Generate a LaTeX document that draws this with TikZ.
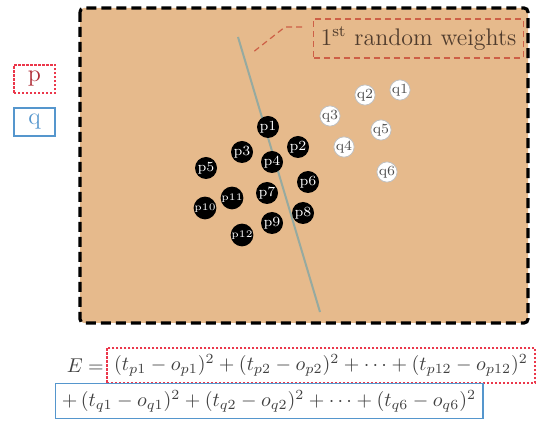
\documentclass[tikz,border=0pt]{standalone}
\usepackage{amsmath, amssymb}
\definecolor{sand}{RGB}{230,186,140}
\definecolor{pred}{RGB}{235,55,75}
\definecolor{ptext}{RGB}{175,45,55}
\definecolor{qblue}{RGB}{85,150,205}
\definecolor{sepline}{RGB}{150,170,160}
\definecolor{leadred}{RGB}{205,95,70}
\definecolor{labtext}{RGB}{80,60,45}
\tikzset{
    pnode/.style={circle, fill=black, text=white, minimum size=11pt, inner sep=0pt, font=\scriptsize},
    qnode/.style={circle, fill=white, draw=black!25, text=black!70, minimum size=10pt, inner sep=0pt, font=\scriptsize},
    pbox/.style={draw=pred, dash pattern=on 1.2pt off 0.8pt, line width=0.8pt},
    qbox/.style={draw=qblue, line width=0.8pt}
}
\begin{document}
\begin{tikzpicture}[x=0.5pt, y=-0.5pt]
    \useasboundingbox (0,0) rectangle (539,421);
    \filldraw[fill=sand, draw=black, line width=1.6pt, dash pattern=on 5pt off 2.5pt, rounded corners=2pt] (80,8) rectangle (528,323);
    % legend
    \node[pbox, minimum width=20.5pt, minimum height=13pt, text=ptext] (leg p) at (34.5,79) {\large p};
    \node[qbox, minimum width=20.5pt, minimum height=11pt, text=qblue] (leg q) at (34.5,122) {\large q};
    % weights line and its label
    \node[draw=leadred, densely dashed, line width=0.6pt, fill=sand, minimum width=99.5pt, minimum height=19.5pt, text=labtext] (weights) at (418.5,38.5) {\large 1\textsuperscript{st} random weights};
    \coordinate (s1) at (238,37);
    \coordinate (s2) at (320,312);
    \draw[sepline, line width=1pt] (s1) -- (s2);
    \coordinate (lead) at (302,27);
    \coordinate (tip) at (252,53);
    \draw[leadred, densely dashed, line width=0.6pt] (lead) -- (285,27) -- (tip);
    % p points
    \node[pnode] (p1) at (268,127) {p1};
    \node[pnode] (p2) at (298,147) {p2};
    \node[pnode] (p3) at (242,152) {p3};
    \node[pnode] (p4) at (272,162) {p4};
    \node[pnode] (p5) at (206,168) {p5};
    \node[pnode] (p6) at (308,182) {p6};
    \node[pnode] (p7) at (267,193) {p7};
    \node[pnode] (p8) at (303,213) {p8};
    \node[pnode] (p9) at (272,223) {p9};
    \node[pnode, font=\tiny] (p10) at (205,208) {p10};
    \node[pnode, font=\tiny] (p11) at (232,198) {p11};
    \node[pnode, font=\tiny] (p12) at (242,235) {p12};
    % q points
    \node[qnode] (q1) at (400,90) {q1};
    \node[qnode] (q2) at (365,95) {q2};
    \node[qnode] (q3) at (330,116) {q3};
    \node[qnode] (q4) at (344,147) {q4};
    \node[qnode] (q5) at (381,130) {q5};
    \node[qnode] (q6) at (387,172) {q6};
    % error sum
    \node[pbox, minimum width=214pt, minimum height=15.5pt, text=black!75] (sum p) at (321,365.5)
        {$(t_{p1}-o_{p1})^2+(t_{p2}-o_{p2})^2+\cdots+(t_{p12}-o_{p12})^2$};
    \node[anchor=east, inner sep=1pt, text=black!75] (E) at (sum p.west) {$E=$};
    \node[qbox, minimum width=209pt, minimum height=16pt, text=black!75] (sum q) at (269,401)
        {$+\,(t_{q1}-o_{q1})^2+(t_{q2}-o_{q2})^2+\cdots+(t_{q6}-o_{q6})^2$};
\end{tikzpicture}
\end{document}
